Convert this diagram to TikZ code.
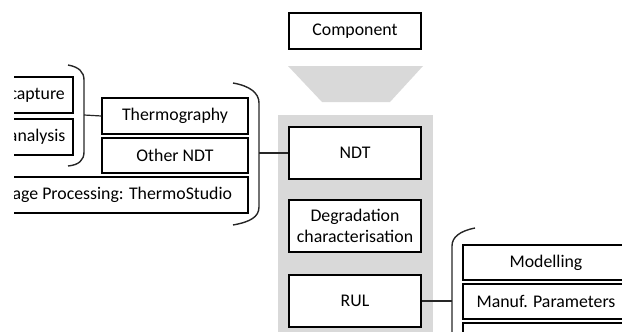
\documentclass[tikz,border=0pt]{standalone}
\usepackage{fontspec}
\setmainfont{Carlito}
\begin{document}
\begin{tikzpicture}[x=1pt,y=-1pt,
  box/.style={draw=black,line width=1.2pt,fill=white,inner sep=0pt,align=center,
    font=\fontsize{17.8}{21}\selectfont},
  brk/.style={draw=black!85,line width=1.4pt},
  conn/.style={draw=black!85,line width=1.2pt}]
\useasboundingbox (0,0) rectangle (622,332);
\clip (14,0) rectangle (622,332);
% gray column and funnel
\fill[black!15] (278,115) rectangle (433,340);
\fill[black!15] (288,66) -- (423,66) -- (390,102) -- (322,102) -- cycle;
% center boxes
\node[box,minimum width=132pt,minimum height=36pt] (comp) at (355,31) {Component};
\node[box,minimum width=132pt,minimum height=52pt] (ndt) at (355,153) {NDT};
\node[box,minimum width=132pt,minimum height=52pt] (deg) at (355,226) {Degradation\\characterisation};
\node[box,minimum width=132pt,minimum height=52pt] (rul) at (355,301) {RUL};
% left boxes
\node[box,minimum width=120pt,minimum height=36pt] (cap) at (13,95) {Image capture};
\node[box,minimum width=120pt,minimum height=36pt] (ana) at (13,137) {Image analysis};
\node[box,minimum width=146pt,minimum height=36pt] (thermo) at (175,116) {Thermography};
\node[box,minimum width=146pt,minimum height=35pt] (other) at (175,155.5) {Other NDT};
\node[box,minimum width=270pt,minimum height=36pt] (imgp) at (113,195) {Image Processing: ThermoStudio};
% right boxes
\node[box,minimum width=166pt,minimum height=35pt] (mod) at (546,262.5) {Modelling};
\node[box,minimum width=166pt,minimum height=35pt] (manuf) at (546,301.5) {Manuf. Parameters};
\node[box,minimum width=166pt,minimum height=35pt] (more) at (546,340.5) {};
% brackets
\draw[brk] (68,65) .. controls (79,67) and (84,72) .. (84,80) -- (84,152) .. controls (84,160) and (79,165) .. (68,166);
\coordinate (b1) at (84,115);
\draw[conn] (b1) -- (thermo.west);
\draw[brk] (233,83) .. controls (250,86) and (259,93) .. (259,103) -- (259,207) .. controls (259,217) and (250,222) .. (233,225);
\coordinate (b2) at (259,153);
\draw[conn] (b2) -- (ndt.west);
\draw[brk] (475,228) .. controls (460,231) and (452,237) .. (452,246) -- (452,340);
\coordinate (b3) at (452,301);
\draw[conn] (rul.east) -- (b3);
\end{tikzpicture}
\end{document}
